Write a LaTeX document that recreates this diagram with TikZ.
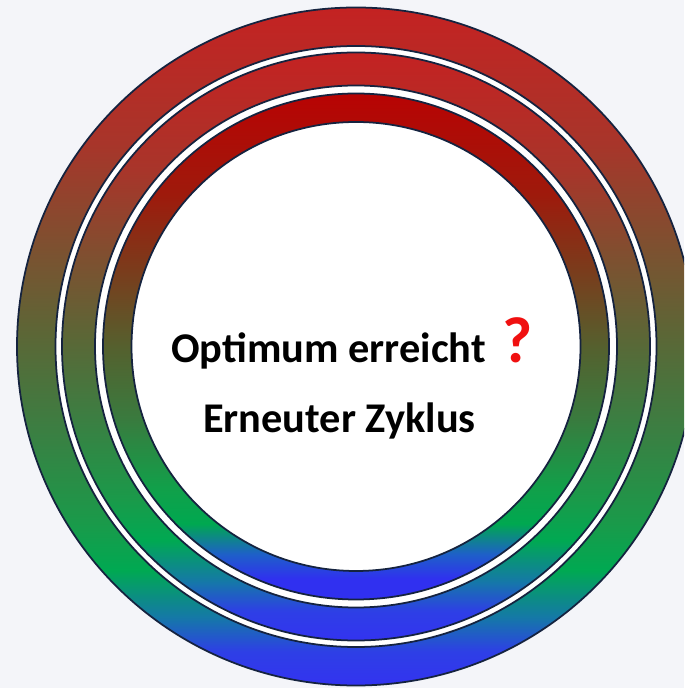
\documentclass[tikz,border=0pt]{standalone}
\usepackage{fontspec}
\setmainfont{Carlito}
\usetikzlibrary{positioning}

\definecolor{bgcol}{HTML}{F4F5F9}
\definecolor{ringline}{HTML}{15233F}
\definecolor{qred}{HTML}{F01010}
% outer and middle ring colours (top to bottom)
\definecolor{oA}{HTML}{C42222}
\definecolor{oB}{HTML}{A8352A}
\definecolor{oC}{HTML}{7E5030}
\definecolor{oD}{HTML}{5C6636}
\definecolor{oE}{HTML}{3C7E42}
\definecolor{oF}{HTML}{1A9A4A}
\definecolor{oG}{HTML}{00A952}
\definecolor{oH}{HTML}{1578A8}
\definecolor{oI}{HTML}{2E3FE6}
\definecolor{oJ}{HTML}{3333F0}
% inner ring colours
\definecolor{iA}{HTML}{B80303}
\definecolor{iB}{HTML}{9E1A0C}
\definecolor{iC}{HTML}{7A3C1C}
\definecolor{iD}{HTML}{55602E}
\definecolor{iE}{HTML}{3A7A3E}
\definecolor{iF}{HTML}{11A04A}
\definecolor{iG}{HTML}{00A850}
\definecolor{iH}{HTML}{1E60C8}
\definecolor{iI}{HTML}{3030F0}

\pgfdeclareverticalshading{outershade}{100bp}{color(0bp)=(oJ); color(25bp)=(oJ);
  color(27.5bp)=(oI); color(30bp)=(oH); color(33.5bp)=(oG); color(37bp)=(oF);
  color(44bp)=(oE); color(51bp)=(oD); color(57.5bp)=(oC); color(65bp)=(oB);
  color(75bp)=(oA); color(100bp)=(oA)}
\pgfdeclareverticalshading{innershade}{100bp}{color(0bp)=(iI); color(25bp)=(iI);
  color(27bp)=(iI); color(29.5bp)=(iH); color(32.5bp)=(iG); color(36bp)=(iF);
  color(43bp)=(iE); color(50bp)=(iD); color(57.5bp)=(iC); color(65bp)=(iB);
  color(75bp)=(iA); color(100bp)=(iA)}

\begin{document}
\begin{tikzpicture}[
    x=0.02cm, y=0.02cm,
    ringedge/.style={draw=ringline, line width=1pt},
    gapfill/.style={fill=white},
    txt/.style={font=\fontsize{24.1}{28}\selectfont\bfseries, inner sep=0pt, text=black}
]
\useasboundingbox (0,0) rectangle (684,688);
\clip (0,0) rectangle (684,688);
\fill[bgcol] (0,0) rectangle (684,688);
\coordinate (c) at (356,341.5);

% Outer ring
\shade[shading=outershade] (c) circle[radius=339];
\fill[gapfill] (c) circle[radius=300.5];
% Middle ring
\shade[shading=outershade] (c) circle[radius=294];
\fill[gapfill] (c) circle[radius=261];
% Inner ring
\shade[shading=innershade] (c) circle[radius=253];
\fill[gapfill] (c) circle[radius=224.5];

% Ring outlines
\foreach \r in {339,300.5,294,261,253,224.5}
    \draw[ringedge] (c) circle[radius=\r];

% Text
\node[txt, anchor=base west] (optimum) at (171,325) {Optimum erreicht};
\node[anchor=base west, inner sep=0pt, text=qred, font=\fontsize{37}{40}\selectfont\bfseries,
      xshift=0.32cm] (quest) at (optimum.base east) {?};
\node[txt, anchor=base] (zyklus) at (339.5,255) {Erneuter Zyklus};
\end{tikzpicture}
\end{document}
